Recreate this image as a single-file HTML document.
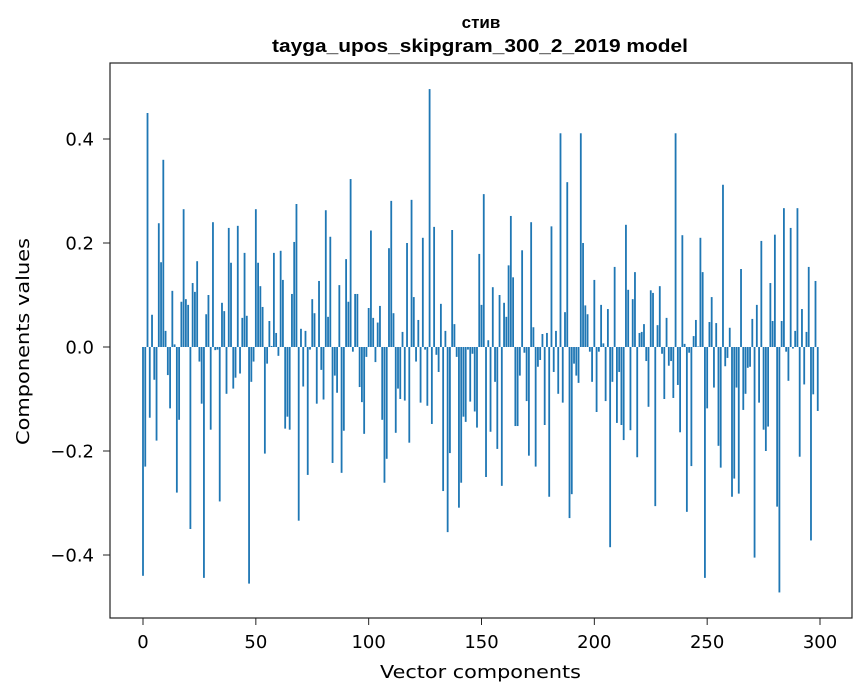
<!DOCTYPE html>
<html><head><meta charset="utf-8"><style>
body{margin:0;background:#fff;}
svg{display:block;font-family:"DejaVu Sans","Liberation Sans",sans-serif;}
</style></head><body>
<svg id="chart" width="867" height="696">
<text x="481" y="28" text-anchor="middle" font-size="17" font-weight="bold" font-family="Liberation Sans, sans-serif">стив</text>
<text x="272" y="52" font-size="18" font-weight="bold" font-family="Liberation Sans, sans-serif" textLength="416" lengthAdjust="spacingAndGlyphs">tayga_upos_skipgram_300_2_2019 model</text>
<g id="bars"></g>
<rect x="110" y="63" width="742" height="555" fill="none" stroke="#222" stroke-width="1.2"/>
<g id="xt"></g>
<g id="yt"></g>
<text x="380" y="678" font-size="18" textLength="201" lengthAdjust="spacingAndGlyphs">Vector components</text>
<text transform="translate(29,445) rotate(-90)" font-size="18" textLength="207" lengthAdjust="spacingAndGlyphs">Components values</text>
</svg>
<script>
const values = [
-0.44,-0.23,0.45,-0.136,0.062,-0.063,-0.18,0.238,0.163,0.36,
0.031,-0.054,-0.118,0.108,0.005,-0.28,-0.14,0.087,0.265,0.092,
0.081,-0.35,0.123,0.106,0.165,-0.028,-0.109,-0.444,0.063,0.1,
-0.159,0.24,-0.006,-0.005,-0.297,0.085,0.069,-0.09,0.229,0.162,
-0.08,-0.059,0.233,-0.051,0.056,0.181,0.06,-0.455,-0.067,-0.028,
0.265,0.162,0.117,0.077,-0.205,-0.032,0.05,0.002,0.181,0.027,
-0.017,0.185,0.129,-0.157,-0.134,-0.159,0.102,0.202,0.275,-0.334,
0.035,-0.076,0.031,-0.246,-0.005,0.092,0.065,-0.109,0.127,-0.044,
-0.101,0.263,0.058,0.212,-0.223,-0.055,-0.088,0.119,-0.242,-0.161,
0.169,0.087,0.323,-0.009,0.102,0.102,-0.077,-0.106,-0.167,-0.019,
0.075,0.224,0.056,-0.029,0.047,0.079,-0.14,-0.261,-0.215,0.19,
0.281,0.065,-0.165,-0.08,-0.1,0.029,-0.103,0.2,-0.184,0.283,
0.096,-0.028,0.052,-0.107,0.21,-0.005,-0.113,0.496,-0.148,0.231,
-0.015,-0.048,0.083,-0.277,0.031,-0.356,-0.204,0.225,0.044,-0.019,
-0.309,-0.261,-0.134,-0.144,-0.005,-0.105,-0.013,-0.124,-0.155,0.179,
0.081,0.294,-0.25,0.013,-0.163,0.115,-0.067,-0.196,0.1,-0.267,
0.085,0.058,0.157,0.252,0.134,-0.152,-0.152,-0.055,0.186,-0.011,
-0.104,-0.209,0.24,0.038,-0.23,-0.038,-0.025,0.025,-0.15,0.027,
-0.288,0.232,-0.048,0.031,-0.09,0.411,-0.107,0.067,0.317,-0.329,
-0.283,-0.032,-0.055,-0.069,0.411,0.2,0.08,0.063,-0.009,-0.067,
0.129,-0.125,-0.009,0.081,0.007,-0.104,0.073,-0.385,-0.067,0.154,
-0.146,-0.048,-0.15,-0.179,0.235,0.11,-0.16,0.092,0.144,-0.212,
0.027,0.029,0.044,-0.027,-0.115,0.109,0.104,-0.306,0.042,0.117,
-0.013,-0.1,0.056,-0.036,-0.027,-0.098,0.411,-0.073,-0.164,0.215,
0.006,-0.317,-0.011,-0.229,0.021,0.052,0.001,0.21,0.144,-0.444,
-0.118,0.048,0.096,-0.078,0.046,-0.19,-0.232,0.312,-0.037,-0.021,
0.037,-0.288,-0.253,-0.078,-0.282,0.15,-0.121,-0.09,-0.04,-0.038,
0.054,-0.405,0.081,-0.107,0.204,-0.159,-0.2,-0.153,0.123,0.05,
0.216,-0.307,-0.472,0.05,0.267,-0.009,-0.065,0.229,-0.003,0.031,
0.267,-0.211,0.073,-0.072,0.029,0.154,-0.372,-0.091,0.127,-0.123
];
const xTicks = [0,50,100,150,200,250,300];
const yTicks = [-0.4,-0.2,0.0,0.2,0.4];
const yTickLabels = ["\u22120.4","\u22120.2","0.0","0.2","0.4"];

const NS="http://www.w3.org/2000/svg";
function xs(v){return 143+v*2.2567;}
function ys(v){return 347-v*520;}
const bars=document.getElementById('bars');
values.forEach((v,i)=>{
  const r=document.createElementNS(NS,'rect');
  const y0=ys(0), y1=ys(v);
  r.setAttribute('x',xs(i-0.4));
  r.setAttribute('width',0.8*2.2567);
  r.setAttribute('y',Math.min(y0,y1));
  r.setAttribute('height',Math.abs(y1-y0));
  r.setAttribute('fill','#1f77b4');
  
  
  bars.appendChild(r);
});
const xt=document.getElementById('xt');
xTicks.forEach(t=>{
  const l=document.createElementNS(NS,'line');
  l.setAttribute('x1',xs(t));l.setAttribute('x2',xs(t));
  l.setAttribute('y1',618);l.setAttribute('y2',625);
  l.setAttribute('stroke','#222');
  
  
  xt.appendChild(l);
  const tx=document.createElementNS(NS,'text');
  tx.setAttribute('x',xs(t));tx.setAttribute('y',648);
  tx.setAttribute('text-anchor','middle');tx.setAttribute('font-size','18');
  tx.textContent=t;
  
  
  xt.appendChild(tx);
});
const yt=document.getElementById('yt');
yTicks.forEach((t,i)=>{
  const l=document.createElementNS(NS,'line');
  l.setAttribute('x1',103);l.setAttribute('x2',110);
  l.setAttribute('y1',ys(t));l.setAttribute('y2',ys(t));
  l.setAttribute('stroke','#222');
  
  
  yt.appendChild(l);
  const tx=document.createElementNS(NS,'text');
  tx.setAttribute('x',94);tx.setAttribute('y',ys(t)+6.5);
  tx.setAttribute('text-anchor','end');tx.setAttribute('font-size','18');
  tx.textContent=yTickLabels[i];
  
  
  yt.appendChild(tx);
});
</script>
</body></html>
